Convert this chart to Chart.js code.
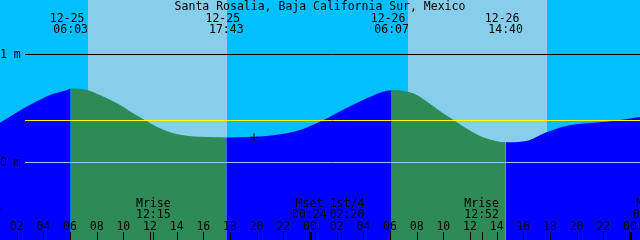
<!DOCTYPE html>
<html><head><meta charset="utf-8">
<script src="https://cdn.jsdelivr.net/npm/chart.js@4.4.1/dist/chart.umd.min.js"></script>
<style>html,body{margin:0;padding:0;background:#00BFFF;overflow:hidden}canvas{display:block}</style>
</head><body><canvas id="c" width="640" height="240"></canvas>
<script>
// ---- data (hours counted from 12-25 00:00 local) ----
const title = 'Santa Rosalia, Baja California Sur, Mexico';
const tideHours  = [0.75, 2.03, 3.23, 4.5, 5.78, 6.05, 7.28, 8.25, 9.53, 10.73, 11.63, 12.75, 13.73, 14.78, 15.75, 16.88, 17.72, 19.73, 21.75, 23.25, 24.98, 26.7, 27.98, 29.25, 30.12, 31.73, 32.7, 33.98, 34.8, 35.93, 37.2, 38.67, 40.2, 41.7, 43.2, 44.7, 46.2, 47.7, 48.75];
const tideLevels = [0.364, 0.460, 0.543, 0.620, 0.667, 0.680, 0.667, 0.620, 0.543, 0.451, 0.386, 0.312, 0.266, 0.244, 0.234, 0.229, 0.228, 0.231, 0.256, 0.296, 0.386, 0.497, 0.574, 0.642, 0.665, 0.636, 0.565, 0.451, 0.386, 0.296, 0.219, 0.182, 0.194, 0.273, 0.333, 0.358, 0.373, 0.395, 0.419];
const extremeHours = [6.05, 17.72, 30.12, 38.67];
const extremeDates = ['12-25', '12-25', '12-26', '12-26'];
const extremeTimes = ['06:03', '17:43', '06:07', '14:40'];
const sunriseHours = [7.35, 31.35];
const sunsetHours  = [17.78, 41.78];
const moonHours = [-0.45, 12.25, 24.4, 26.33, 36.87, 49.5];
const moonNames = ['Mset', 'Mrise', 'Mset', '1st/4', 'Mrise', 'Mset'];
const moonTimes = ['23:27', '12:15', '00:24', '02:20', '12:52', '01:30'];
const hourTicks = [2,4,6,8,10,12,14,16,18,20,22,24,26,28,30,32,34,36,38,40,42,44,46,48];
const hourTickLabels = ['02','04','06','08','10','12','14','16','18','20','22','00','02','04','06','08','10','12','14','16','18','20','22','00'];
const datumLevels = [1, 0];
const datumLabels = ['1 m', '0 m'];
const meanLevel = 0.386;
const markHours = [19.8];
const markLevels = [0.229];

const FONT = '11.5px "DejaVu Sans Mono", "Liberation Mono", monospace';
const NIGHT = '#00BFFF', DAY = '#87CEEB', FLOOD = '#0000FF', EBB = '#2E8B57';

const xtide = {
  id: 'xtide',
  beforeDatasetsDraw(chart) {
    const {ctx, scales: {x}} = chart;
    ctx.save();
    ctx.fillStyle = NIGHT; ctx.fillRect(0, 0, chart.width, chart.height);
    ctx.fillStyle = DAY;
    sunriseHours.forEach((r, i) => {
      const x0 = Math.round(x.getPixelForValue(r)), x1 = Math.round(x.getPixelForValue(sunsetHours[i]));
      ctx.fillRect(x0, 0, x1 - x0, chart.height);
    });
    ctx.restore();
  },
  afterDatasetsDraw(chart) {
    const {ctx, scales: {x, y}} = chart;
    const W = chart.width, H = chart.height;
    ctx.save();
    const hline = (v, color) => {
      const py = Math.floor(y.getPixelForValue(v)) + 0.5;
      ctx.strokeStyle = color; ctx.lineWidth = 1;
      ctx.beginPath(); ctx.moveTo(25, py); ctx.lineTo(W, py); ctx.stroke();
    };
    hline(datumLevels[0], '#000000');
    hline(datumLevels[1], '#87CEFA');
    hline(meanLevel, '#FFFF00');

    ctx.font = FONT; ctx.fillStyle = '#000'; ctx.textBaseline = 'alphabetic';
    ctx.textAlign = 'left';
    datumLevels.forEach((v, i) => ctx.fillText(datumLabels[i], 0, y.getPixelForValue(v) + 3.5));
    ctx.textAlign = 'center';
    ctx.fillText(title, 320, 9.5);
    extremeHours.forEach((h, i) => {
      const px = x.getPixelForValue(h);
      ctx.fillText(extremeDates[i], px - 3.5, 21.5);
      ctx.fillText(extremeTimes[i], px, 33.3);
    });
    const cx = moonHours.map(h => x.getPixelForValue(h));
    const widths = moonNames.map((n, i) => Math.max(ctx.measureText(n).width, ctx.measureText(moonTimes[i]).width));
    const lx = cx.slice();
    for (let i = 1; i < lx.length; i++) {
      const need = (widths[i] + widths[i - 1]) / 2 + 3;
      const d = lx[i] - lx[i - 1];
      if (d < need) { const s = (need - d) / 2; lx[i - 1] -= s; lx[i] += s; }
    }
    moonNames.forEach((n, i) => {
      ctx.fillText(n, lx[i], 206.7);
      ctx.fillText(moonTimes[i], lx[i], 217.7);
    });
    hourTicks.forEach((h, i) => ctx.fillText(hourTickLabels[i], x.getPixelForValue(h), 230));
    hourTicks.forEach((h, i) => {
      const px = Math.round(x.getPixelForValue(h));
      const w = hourTickLabels[i] === '00' ? 3 : 1;
      ctx.fillRect(px - (w > 1 ? 1 : 0), 232, w, H - 232);
    });
    cx.forEach(px => ctx.fillRect(Math.round(px), 232, 1, H - 232));
    ctx.restore();
  }
};

new Chart(document.getElementById('c'), {
  type: 'line',
  data: {
    datasets: [
      {
        label: 'mark',
        type: 'scatter',
        data: markHours.map((h, i) => ({x: h, y: markLevels[i]})),
        pointStyle: 'cross', pointRadius: 4, borderColor: '#000', borderWidth: 1, backgroundColor: '#000',
        order: 0
      },
      {
        label: 'tide',
        data: tideHours.map((h, i) => ({x: h, y: tideLevels[i]})),
        borderColor: 'transparent', borderWidth: 0, pointRadius: 0,
        backgroundColor: FLOOD,
        fill: 'start',
        cubicInterpolationMode: 'monotone',
        segment: {
          backgroundColor: c => (c.p1.parsed.y < c.p0.parsed.y ? EBB : FLOOD)
        },
        order: 1
      }
    ]
  },
  options: {
    responsive: false, animation: false, events: [],
    layout: {padding: 0, autoPadding: false},
    scales: {
      x: {type: 'linear', min: 0.75, max: 48.75, display: false},
      y: {type: 'linear', min: -0.7222, max: 1.5, display: false}
    },
    plugins: {legend: {display: false}, tooltip: {enabled: false}, title: {display: false}}
  },
  plugins: [xtide]
});
</script></body></html>
